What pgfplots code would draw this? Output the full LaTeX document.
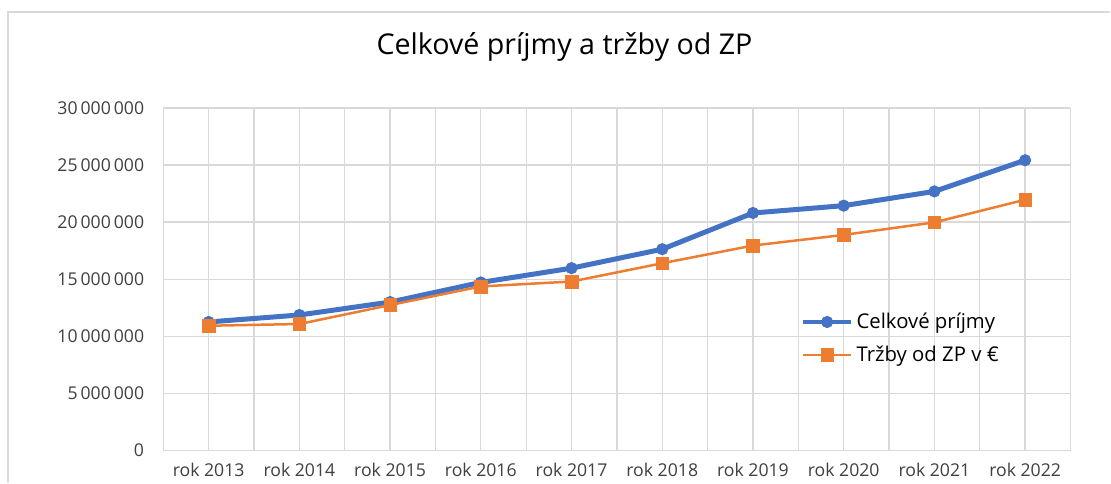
\documentclass[border=0pt]{standalone}
\usepackage{fontspec}
\setmainfont{Open Sans}
\usepackage{pgfplots}
\pgfplotsset{compat=1.18}
\definecolor{xblue}{HTML}{4472C4}
\definecolor{xorange}{HTML}{ED7D31}
\definecolor{xgrid}{HTML}{D9D9D9}
\begin{document}
\begin{tikzpicture}[x=0.6pt,y=0.6pt]
% canvas in screen pixels, y measured from the bottom
\path[fill=white] (0,0) rectangle (1111,483);
\draw[xgrid, line width=1.2pt] (8,0) -- (8,471) -- (1111,471);
\node[font=\fontsize{17.2}{19}\selectfont] at (565,436) {Celkové príjmy a tržby od ZP};
% the axis lands about (-16,+7) px away from at=, so shift it back
\begin{axis}[
    at={(180,28)}, anchor=south west,
    scale only axis,
    width=544.8pt, height=205.8pt,
    xmin=-0.5, xmax=9.5,
    ymin=0, ymax=30000000,
    xtick={0,...,9},
    xticklabels={rok 2013, rok 2014, rok 2015, rok 2016, rok 2017, rok 2018, rok 2019, rok 2020, rok 2021, rok 2022},
    minor xtick={-0.5,0.5,...,9.5},
    ytick={0,5000000,10000000,15000000,20000000,25000000,30000000},
    yticklabels={0, 5\,000\,000, 10\,000\,000, 15\,000\,000, 20\,000\,000, 25\,000\,000, 30\,000\,000},
    scaled y ticks=false,
    tick label style={font=\fontsize{10.6}{13}\selectfont, text=black!75},
    xticklabel style={yshift=-4pt},
    yticklabel style={xshift=-8pt},
    major tick length=0pt, minor tick length=0pt,
    grid=both,
    major grid style={xgrid, line width=0.8pt},
    minor grid style={xgrid, line width=0.8pt},
    axis line style={draw=none},
    clip=false,
    legend style={draw=none, fill=none, at={(0.697,0.422)}, anchor=north west,
        font=\fontsize{12.2}{14}\selectfont, row sep=5pt},
    legend cell align=left,
    legend image code/.code={
        \draw[mark repeat=2, mark phase=2, #1] plot coordinates {(0cm,0cm) (0.5cm,0cm) (1cm,0cm)};
    },
]
\addplot[xblue, line width=3pt, mark=*, mark size=3.4pt, mark options={solid, fill=xblue, line width=0.5pt}]
    coordinates {(0,11260000) (1,11870000) (2,13000000) (3,14720000) (4,15970000)
                 (5,17630000) (6,20800000) (7,21440000) (8,22690000) (9,25420000)};
\addlegendentry{Celkové príjmy}
\addplot[xorange, line width=1.5pt, mark=square*, mark size=3.8pt, mark options={solid, fill=xorange, line width=0.3pt}]
    coordinates {(0,10930000) (1,11080000) (2,12740000) (3,14370000) (4,14800000)
                 (5,16400000) (6,17950000) (7,18880000) (8,19980000) (9,21960000)};
\addlegendentry{Tržby od ZP v €}
\end{axis}
\end{tikzpicture}
\end{document}
